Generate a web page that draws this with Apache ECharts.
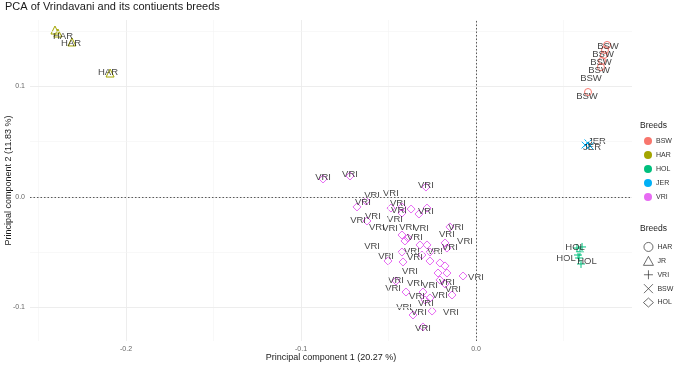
<!DOCTYPE html>
<html>
<head>
<meta charset="utf-8">
<script src="https://cdn.jsdelivr.net/npm/echarts@6/dist/echarts.min.js"></script>
<style>
  html, body { margin: 0; padding: 0; background: #fff; }
  #main { width: 685px; height: 367px; }
</style>
</head>
<body>
<div id="main"></div>
<script>
// 刻度
var xTicks = [-0.2, -0.1, 0.0];
var yTicks = [-0.1, 0.0, 0.1];
var xMinor = [-0.25, -0.15, -0.05, 0.05];
var yMinor = [-0.05, 0.05, 0.15];

var breeds = ['BSW', 'HAR', 'HOL', 'JER', 'VRI'];
var breedColors = ['#F8766D', '#A3A500', '#00BF7D', '#00B0F6', '#E76BF3'];
var shapeNames = ['HAR', 'JR', 'VRI', 'BSW', 'HOL'];

// 点 (PC1, PC2)
var bswPoints = [[0.0749, 0.1376], [0.0737, 0.1330], [0.0731, 0.1285], [0.0720, 0.1231], [0.0714, 0.1176], [0.0640, 0.0950]];
var harPoints = [[-0.2406, 0.1511], [-0.2389, 0.1484], [-0.2309, 0.1403], [-0.2091, 0.1122]];
var holPoints = [[0.0577, -0.0462], [0.0594, -0.0498], [0.0606, -0.0452], [0.0589, -0.0552], [0.0600, -0.0606], [0.0583, -0.0525]];
var jerPoints = [[0.0623, 0.0471], [0.0640, 0.0489], [0.0651, 0.0462]];
var vriPoints = [
  [-0.0874, 0.0163], [-0.0720, 0.0190], [-0.0286, 0.0090], [-0.0680, -0.0090], [-0.0629, -0.0036],
  [-0.0486, -0.0100], [-0.0423, -0.0090], [-0.0371, -0.0109], [-0.0280, -0.0100], [-0.0326, -0.0154],
  [-0.0423, -0.0145], [-0.0623, -0.0217], [-0.0149, -0.0271], [-0.0423, -0.0344], [-0.0389, -0.0371],
  [-0.0406, -0.0398], [-0.0320, -0.0434], [-0.0280, -0.0434], [-0.0177, -0.0416], [-0.0166, -0.0462],
  [-0.0423, -0.0498], [-0.0309, -0.0525], [-0.0263, -0.0498], [-0.0503, -0.0579], [-0.0417, -0.0588],
  [-0.0263, -0.0579], [-0.0206, -0.0597], [-0.0177, -0.0624], [-0.0217, -0.0688], [-0.0166, -0.0688],
  [-0.0074, -0.0715], [-0.0206, -0.0751], [-0.0177, -0.0787], [-0.0457, -0.0760], [-0.0400, -0.0860],
  [-0.0303, -0.0860], [-0.0263, -0.0914], [-0.0291, -0.0932], [-0.0137, -0.0887], [-0.0251, -0.1032],
  [-0.0360, -0.1068], [-0.0303, -0.1176]
];

// 文字标签位置 (抖动后)
var bswLabels = [[0.0754, 0.1367], [0.0726, 0.1294], [0.0714, 0.1222], [0.0703, 0.1149], [0.0657, 0.1077], [0.0634, 0.0914]];
var harLabels = [[-0.2360, 0.1457], [-0.2314, 0.1394], [-0.2103, 0.1131]];
var holLabels = [[0.0566, -0.0452], [0.0514, -0.0552], [0.0634, -0.0579]];
var jerLabels = [[0.0691, 0.0507], [0.0663, 0.0452]];
var vriLabels = [
  [-0.0874, 0.0181], [-0.0720, 0.0208], [-0.0286, 0.0109], [-0.0594, 0.0018], [-0.0486, 0.0036],
  [-0.0646, -0.0045], [-0.0446, -0.0054], [-0.0440, -0.0118], [-0.0286, -0.0127], [-0.0589, -0.0172],
  [-0.0674, -0.0208], [-0.0463, -0.0199], [-0.0566, -0.0271], [-0.0491, -0.0281], [-0.0394, -0.0271],
  [-0.0314, -0.0281], [-0.0114, -0.0271], [-0.0166, -0.0335], [-0.0349, -0.0362], [-0.0063, -0.0398],
  [-0.0594, -0.0443], [-0.0514, -0.0534], [-0.0366, -0.0489], [-0.0349, -0.0543], [-0.0234, -0.0489],
  [-0.0149, -0.0452], [-0.0377, -0.0670], [0.0000, -0.0724], [-0.0457, -0.0751], [-0.0474, -0.0824],
  [-0.0349, -0.0778], [-0.0263, -0.0796], [-0.0166, -0.0769], [-0.0131, -0.0833], [-0.0206, -0.0887],
  [-0.0337, -0.0896], [-0.0411, -0.0995], [-0.0286, -0.0959], [-0.0326, -0.1041], [-0.0143, -0.1041],
  [-0.0303, -0.1186]
];

var pointSets = [bswPoints, harPoints, holPoints, jerPoints, vriPoints];
var labelSets = [bswLabels, harLabels, holLabels, jerLabels, vriLabels];

// 形状: BSW 圆, HAR 三角, HOL 加号, JER 叉, VRI 菱形
var plusPath = 'path://M5,0L5,10M0,5L10,5';
var crossPath = 'path://M0,0L10,10M10,0L0,10';
var breedShapes = ['circle', 'triangle', plusPath, crossPath, 'diamond'];
var breedSizes = [7, 8, 8, 7, 8];

var font = 'Liberation Sans, Arial, sans-serif';

var myChart = echarts.init(document.getElementById('main'));

var series = [];

// 网格线 + 虚线
var gridLines = [];
xTicks.forEach(function (v) { gridLines.push({ xAxis: v, lineStyle: { color: '#ebebeb', width: 0.9, type: 'solid' } }); });
xMinor.forEach(function (v) { gridLines.push({ xAxis: v, lineStyle: { color: '#f3f3f3', width: 0.6, type: 'solid' } }); });
yTicks.forEach(function (v) { gridLines.push({ yAxis: v, lineStyle: { color: '#ebebeb', width: 0.9, type: 'solid' } }); });
yMinor.forEach(function (v) { gridLines.push({ yAxis: v, lineStyle: { color: '#f3f3f3', width: 0.6, type: 'solid' } }); });
gridLines.push({ xAxis: 0, lineStyle: { color: '#333', width: 0.8, type: [1.5, 2] } });
gridLines.push({ yAxis: 0, lineStyle: { color: '#333', width: 0.8, type: [1.5, 2] } });

series.push({
  name: 'grid',
  type: 'scatter',
  data: [],
  silent: true,
  z: 0,
  markLine: {
    silent: true,
    symbol: ['none', 'none'],
    label: { show: false },
    animation: false,
    data: gridLines
  }
});

// 点
breeds.forEach(function (b, i) {
  series.push({
    name: b,
    type: 'scatter',
    symbol: breedShapes[i],
    symbolSize: breedSizes[i],
    data: pointSets[i],
    z: 2,
    itemStyle: { color: 'rgba(0,0,0,0)', borderColor: breedColors[i], borderWidth: 1, opacity: 1 }
  });
});

// 文字
breeds.forEach(function (b, i) {
  series.push({
    name: 'lab_' + b,
    type: 'scatter',
    symbolSize: 0,
    data: labelSets[i],
    z: 3,
    itemStyle: { color: 'rgba(0,0,0,0)' },
    label: {
      show: true,
      position: 'inside',
      formatter: b,
      color: '#111',
      fontSize: 9.5,
      fontFamily: font
    }
  });
});

// 形状图例用的空系列
var shapeIcons = ['circle', 'triangle', plusPath, crossPath, 'diamond'];
shapeNames.forEach(function (n, i) {
  series.push({
    name: 's_' + n,
    type: 'scatter',
    symbol: shapeIcons[i],
    data: [],
    itemStyle: { color: 'rgba(0,0,0,0)', borderColor: '#333', borderWidth: 0.9 }
  });
});

var option = {
  animation: false,
  backgroundColor: '#fff',
  title: [
    { text: 'PCA of Vrindavani and its contiuents breeds', left: 5, top: 1, padding: 0,
      textStyle: { fontSize: 11, fontWeight: 'normal', color: '#1a1a1a', fontFamily: font } },
    { text: 'Breeds', left: 640, top: 121, padding: 0,
      textStyle: { fontSize: 8.5, fontWeight: 'normal', color: '#1a1a1a', fontFamily: font } },
    { text: 'Breeds', left: 640, top: 224, padding: 0,
      textStyle: { fontSize: 8.5, fontWeight: 'normal', color: '#1a1a1a', fontFamily: font } }
  ],
  grid: { left: 30, right: 53, top: 20, bottom: 26, containLabel: false, outerBoundsMode: 'none' },
  legend: [
    {
      orient: 'vertical',
      left: 639, top: 132,
      itemWidth: 8, itemHeight: 8, itemGap: 6,
      textStyle: { fontSize: 7, color: '#333', fontFamily: font, padding: [0, 0, 0, -1] },
      selectedMode: false,
      data: breeds.map(function (b, i) {
        return { name: b, icon: 'circle', itemStyle: { color: breedColors[i], borderWidth: 0 } };
      })
    },
    {
      orient: 'vertical',
      left: 638, top: 237,
      itemWidth: 10, itemHeight: 9, itemGap: 4,
      textStyle: { fontSize: 7, color: '#333', fontFamily: font, padding: [0, 0, 0, -1] },
      selectedMode: false,
      formatter: function (name) { return name.slice(2); },
      data: shapeNames.map(function (n, i) {
        return { name: 's_' + n, icon: shapeIcons[i],
          itemStyle: { color: 'rgba(0,0,0,0)', borderColor: '#333', borderWidth: 0.9 } };
      })
    }
  ],
  xAxis: {
    type: 'value',
    min: -0.25486,
    max: 0.08914,
    name: 'Principal component 1 (20.27 %)',
    nameLocation: 'middle',
    nameGap: 12,
    nameMoveOverlap: false,
    nameTextStyle: { fontSize: 9, color: '#1a1a1a', fontFamily: font },
    axisLine: { show: false },
    axisTick: { show: false },
    splitLine: { show: false },
    axisLabel: {
      customValues: xTicks,
      formatter: function (v) { return v.toFixed(1); },
      fontSize: 7, color: '#666', margin: 5, fontFamily: font
    }
  },
  yAxis: {
    type: 'value',
    min: -0.13032,
    max: 0.16018,
    name: 'Principal component 2 (11.83 %)',
    nameLocation: 'middle',
    nameGap: 17,
    nameMoveOverlap: false,
    nameTextStyle: { fontSize: 9, color: '#1a1a1a', fontFamily: font },
    axisLine: { show: false },
    axisTick: { show: false },
    splitLine: { show: false },
    axisLabel: {
      customValues: yTicks,
      formatter: function (v) { return v.toFixed(1); },
      fontSize: 7, color: '#666', margin: 5, fontFamily: font
    }
  },
  series: series
};

myChart.setOption(option);
</script>
</body>
</html>
